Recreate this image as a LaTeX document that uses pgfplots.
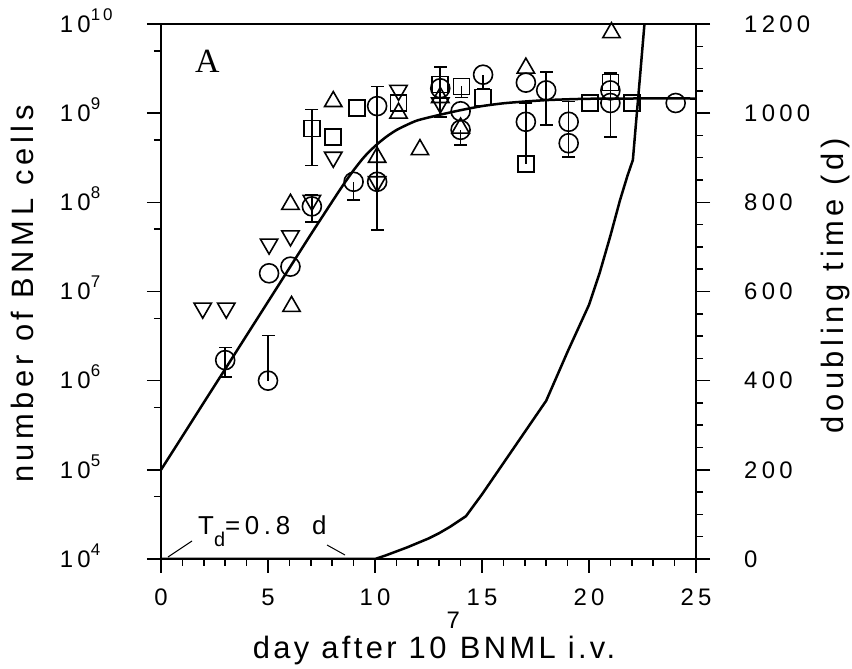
\documentclass[border=0pt]{standalone}
\usepackage{fontspec}
\setmainfont{Liberation Sans}
\newfontfamily\tickfam[LetterSpace=18]{Liberation Sans}
\newfontfamily\labfam[LetterSpace=15]{Liberation Sans}
\newfontfamily\xlabfam[LetterSpace=11]{Liberation Sans}
\newfontfamily\serfam{Liberation Serif}
\usepackage{pgfplots}
\pgfplotsset{compat=1.18}
\newcommand\tp[1]{10\rlap{\smash{\raisebox{0.5em}{\fontsize{17}{17}\selectfont #1}}}}
\begin{document}
\begin{tikzpicture}
\useasboundingbox (0,0) rectangle (852bp,669bp);
\begin{axis}[
  at={(161bp,110bp)}, anchor=south west,
  scale only axis, width=535bp, height=535bp,
  xmin=0, xmax=25, ymode=log, ymin=1e4, ymax=1e10,
  axis line style={line width=1.8bp},
  xtick={0,5,10,15,20,25}, minor x tick num=4,
  ytick={1e4,1e5,1e6,1e7,1e8,1e9,1e10},
  yticklabels={\tp{4},\tp{5},\tp{6},\tp{7},\tp{8},\tp{9},\tp{10}},
  minor ytick={5e4,5e5,5e6,5e7,5e8,5e9},
  xtick pos=left, ytick pos=left,
  tick align=outside, major tick length=14bp, minor tick length=7bp,
  every tick/.style={line width=1.5bp, black},
  /pgf/number format/assume math mode=true,
  /pgf/number format/1000 sep={},
  tick label style={font=\tickfam\fontsize{24}{28}\selectfont},
  xticklabel style={anchor=north, inner sep=0pt, yshift=-16bp},
  yticklabel style={anchor=east, inner sep=0pt, xshift=-56bp},
  clip=true,
]
% fitted growth curve
\addplot[black, line width=2.5bp, smooth, tension=0.4] coordinates {
(0,1e5) (1,2.38e5) (2,5.68e5) (3,1.35e6) (4,3.22e6) (5,7.67e6) (6,1.83e7)
(7,4.36e7) (8,1.02e8) (8.5,1.55e8) (9,2.29e8) (9.5,3.24e8) (10,4.27e8)
(10.5,5.37e8) (11,6.46e8) (11.5,7.41e8) (12,8.32e8) (13,9.55e8) (14,1.08e9)
(15,1.20e9) (16,1.29e9) (17,1.35e9) (18,1.40e9) (19,1.43e9) (20,1.45e9)
(22,1.46e9) (25,1.46e9)};
% error bar stems
\pgfplotsset{stem/.style={black, line width=1.6bp, mark=none, forget plot}}
\addplot[stem] coordinates {(3,1.1e6) (3,2.35e6)};
\addplot[stem] coordinates {(5,1.0e6) (5,3.2e6)};
\addplot[stem] coordinates {(7.05,6.0e7) (7.05,1.2e8)};
\addplot[stem] coordinates {(7.05,2.6e8) (7.05,1.1e9)};
\addplot[stem] coordinates {(9,1.07e8) (9,1.7e8)};
\addplot[stem] coordinates {(10.1,4.9e7) (10.1,2.0e9)};
\addplot[stem] coordinates {(13.05,9e8) (13.05,3.3e9)};
\addplot[stem] coordinates {(14,4.4e8) (14,6.5e8)};
\addplot[stem] coordinates {(14.05,1.5e9) (14.05,2.0e9)};
\addplot[stem] coordinates {(15.05,1.9e9) (15.05,2.7e9)};
\addplot[stem] coordinates {(17.05,2.7e8) (17.05,1.3e9)};
\addplot[stem] coordinates {(18,7.4e8) (18,2.9e9)};
\addplot[stem] coordinates {(19.05,3.2e8) (19.05,1.35e9)};
\addplot[stem] coordinates {(21,5.4e8) (21,2.8e9)};
% caps
\addplot[only marks, mark=-, mark size=6.5bp, mark options={line width=1.6bp}] coordinates {
(3,1.1e6) (3,2.35e6) (5,3.2e6) (7.05,6.0e7) (7.05,1.2e8) (7.05,2.6e8) (7.05,1.1e9)
(9,1.07e8) (10.1,4.9e7) (10.1,2.0e9) (13.05,9e8) (13.05,3.3e9) (14,4.4e8)
(14.05,1.5e9) (15.05,1.9e9) (17.05,1.3e9) (18,7.4e8) (18,2.9e9) (19.05,3.2e8)
(19.05,1.35e9) (21,5.4e8) (21,2.8e9)};
% circles
\addplot[only marks, mark=o, mark size=9.5bp, mark options={line width=1.6bp, black}] coordinates {
(3.0,1.7e6) (5.0,1.0e6) (5.05,1.6e7) (6.05,1.9e7) (7.05,9e7) (9.0,1.7e8)
(10.1,1.2e9) (10.1,1.7e8) (13.05,1.9e9) (14.0,1.05e9) (14.0,6.5e8) (15.05,2.7e9)
(17.05,2.2e9) (17.05,8e8) (18.0,1.8e9) (19.05,8e8) (19.05,4.6e8) (21.0,1.3e9)
(21.0,1.8e9) (24.05,1.3e9)};
% triangles up
\addplot[only marks, mark=triangle, mark size=10bp, mark options={line width=1.6bp, black}] coordinates {
(6.1,6.8e6) (6.05,9.5e7) (8.05,1.35e9) (10.1,3.2e8) (11.1,1.0e9) (12.1,3.9e8)
(13.05,1.5e9) (14.0,6.8e8) (17.05,3.2e9) (21.05,8e9)};
% triangles down
\addplot[only marks, mark=triangle, mark size=10bp, mark options={line width=1.6bp, black, rotate=180}] coordinates {
(1.95,6.5e6) (3.05,6.5e6) (5.05,3.4e7) (6.05,4.2e7) (7.05,1.05e8) (8.05,3.2e8)
(10.1,1.7e8) (11.1,1.8e9) (13.05,1.3e9)};
% squares
\addplot[only marks, mark=square, mark size=8bp, mark options={line width=1.6bp, black}] coordinates {
(7.05,6.7e8) (8.05,5.4e8) (9.15,1.15e9) (11.1,1.3e9) (13.05,2.1e9) (14.05,2.0e9)
(15.05,1.5e9) (17.05,2.7e8) (20.05,1.3e9) (21.0,2.2e9) (22.0,1.3e9)};
\end{axis}
\begin{axis}[
  at={(161bp,110bp)}, anchor=south west,
  scale only axis, width=535bp, height=535bp,
  xmin=0, xmax=25, ymin=0, ymax=1200,
  axis x line=none, axis y line*=right,
  axis line style={line width=1.8bp},
  ytick={0,200,...,1200}, minor y tick num=3,
  tick align=outside, major tick length=14bp, minor tick length=7bp,
  every tick/.style={line width=1.5bp, black},
  /pgf/number format/assume math mode=true,
  /pgf/number format/1000 sep={},
  tick label style={font=\tickfam\fontsize{24}{28}\selectfont},
  yticklabel style={anchor=west, inner sep=0pt, xshift=34bp},
  clip=true,
]
\addplot[black, line width=2.5bp] coordinates {
(0,0) (10,0) (10.5,8) (11,17) (11.5,26) (12,36) (12.5,46) (13,58) (13.5,72)
(14,88) (14.25,96) (15,145) (16,215) (17,285) (18,355) (19,465) (20,570)
(20.5,642) (21,725) (21.45,805) (21.8,860) (22.05,895) (22.2,980) (22.38,1080)
(22.6,1205)};
\end{axis}
% labels
\node[rotate=90, anchor=base, font=\labfam\fontsize{31}{36}\selectfont] at (33bp,375bp) {number of BNML cells};
\node[rotate=90, anchor=base, font=\labfam\fontsize{31}{36}\selectfont] at (843bp,383bp) {doubling time (d)};
\node[anchor=base, font=\xlabfam\fontsize{31}{36}\selectfont] at (434bp,11bp) {day after 10\raisebox{30bp}{\fontsize{24}{24}\selectfont 7}BNML i.v.};
\node[anchor=base west, inner sep=0pt, font=\serfam\fontsize{34}{34}\selectfont] at (195bp,596bp) {A};
\node[anchor=base west, inner sep=0pt, font=\tickfam\fontsize{26}{30}\selectfont] at (198bp,134bp) {T\raisebox{-12bp}{\fontsize{20}{20}\selectfont d}=0.8\hspace{22bp}d};
\draw[line width=1bp] (168bp,112bp) -- (192bp,128bp);
\draw[line width=1bp] (327bp,124bp) -- (345bp,114bp);
\end{tikzpicture}
\end{document}
